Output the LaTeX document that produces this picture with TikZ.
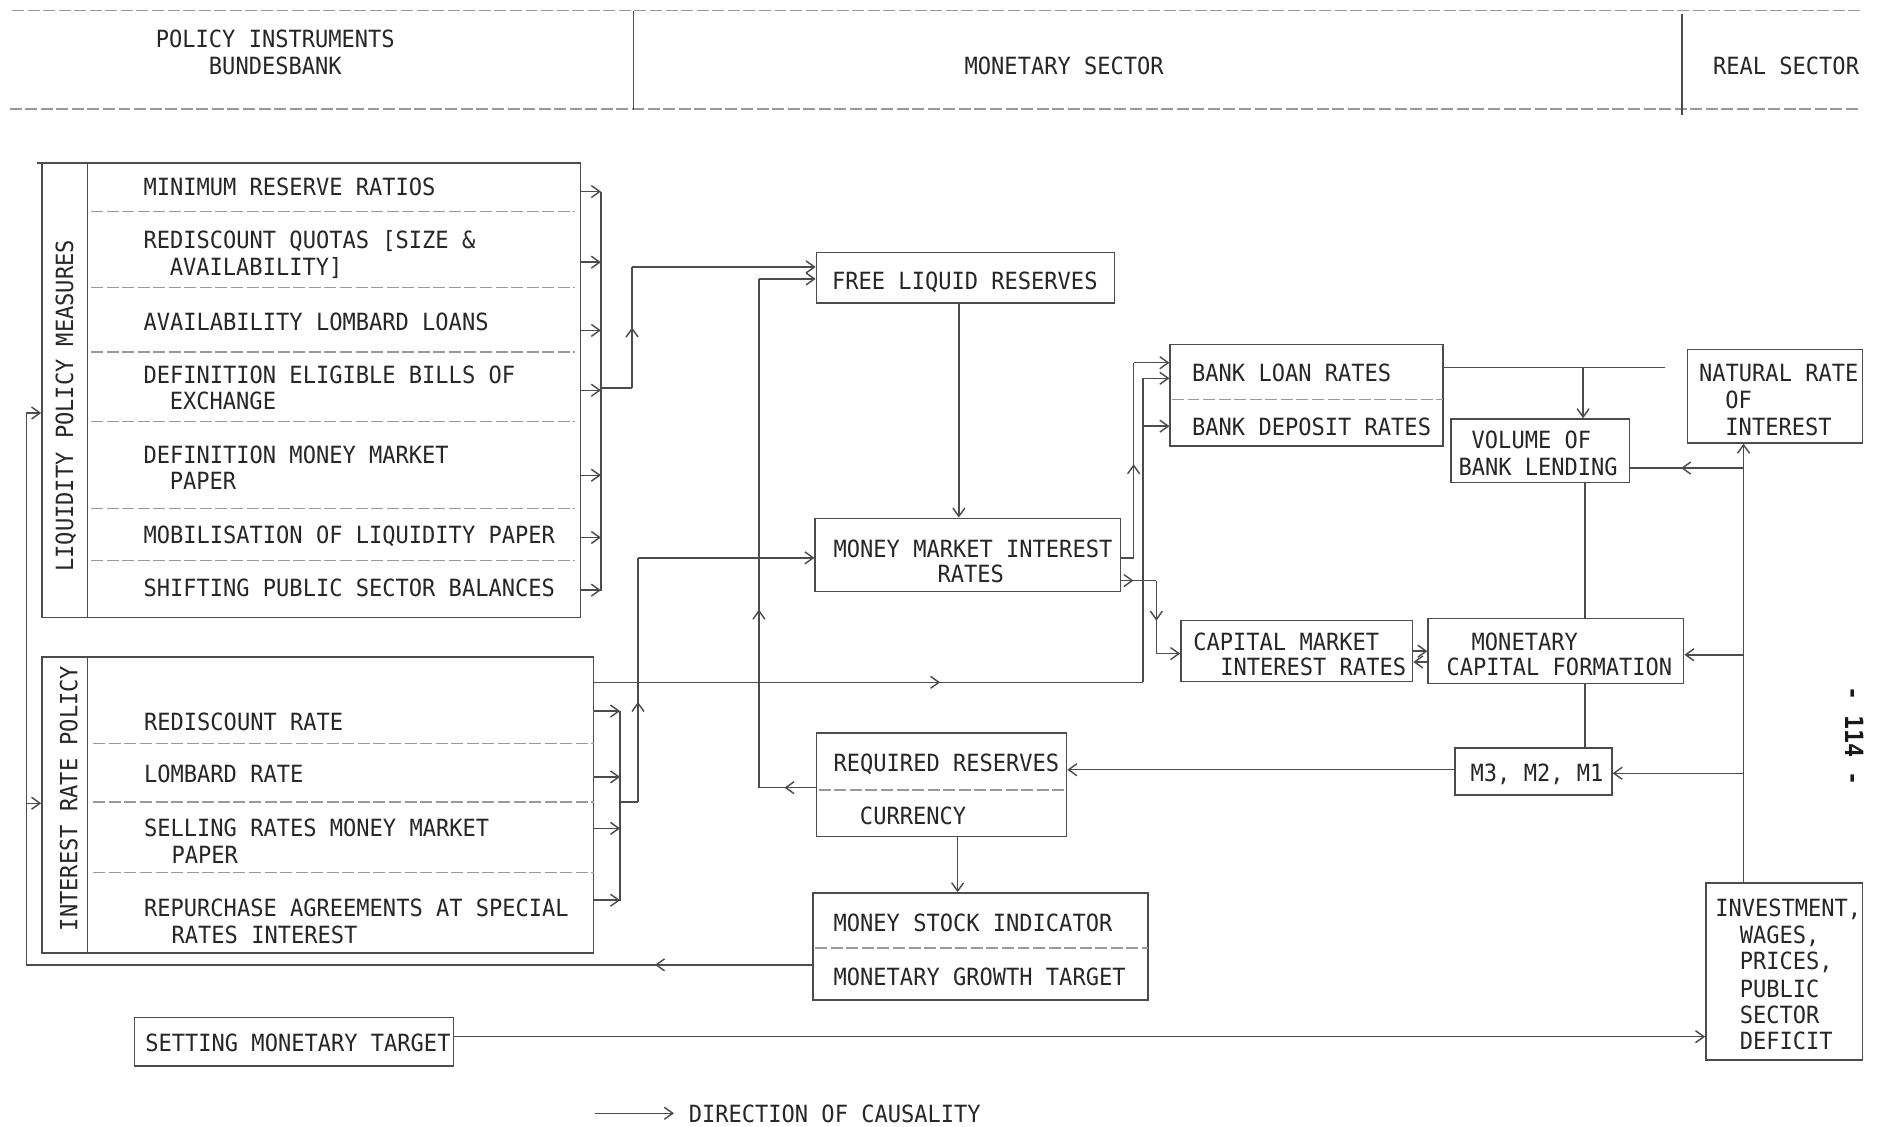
\documentclass[tikz,border=0pt]{standalone}
\usepackage{fontspec}
\newfontfamily\twfont[FakeStretch=0.93]{DejaVu Sans Mono}
\usetikzlibrary{arrows.meta,fit,decorations.markings}

\tikzset{
  ln/.style={draw=black!70, line width=0.6pt},
  faint/.style={draw=black!40, line width=0.5pt, dash pattern=on 5pt off 1.5pt},
  boxed/.style={draw=black!70, line width=0.6pt, inner sep=0pt},
  txt/.style={inner sep=0pt, anchor=base west, text=black!85},
  ctxt/.style={inner sep=0pt, anchor=base, text=black!85},
  tip/.style={-{Straight Barb[length=3.5pt,width=5pt]}},
  ma/.style={postaction={decorate}, decoration={markings, mark=at position #1 with {\arrow{Straight Barb[length=3.5pt,width=5pt]}}}},
}

\begin{document}
\begin{tikzpicture}[x=0.5pt, y=-0.5pt, font=\twfont\fontsize{9.9pt}{11.1pt}\selectfont]
\fill[white] (0,0) rectangle (1568,941);
\useasboundingbox (0,0) rectangle (1568,941);

% ---------------- header
\draw[faint] (10,9) -- (1555,9);
\draw[faint] (8,91) -- (1555,91);
\draw[ln] (529,9) -- (529,92);
\draw[ln] (1405,12) -- (1405,96);
\node[ctxt] (h1) at (230,40) {POLICY INSTRUMENTS};
\node[ctxt] (h2) at (230,62) {BUNDESBANK};
\node[ctxt] (h3) at (889,62) {MONETARY SECTOR};
\node[ctxt] (h4) at (1492,62) {REAL SECTOR};

% ---------------- liquidity policy measures
\node[boxed, fit={(35,136) (485,516)}] (liq) {};
\draw[ln] (31,136) -- (35,136);
\draw[ln] (73,136) -- (73,516);
\foreach \yy in {177,240,294,352,425,468} \draw[faint] (76,\yy) -- (480,\yy);
\node[rotate=90, inner sep=0pt, text=black!85] (liqlab) at (55,339) {LIQUIDITY POLICY MEASURES};
\node[txt] (l1) at (119.5,163) {MINIMUM RESERVE RATIOS};
\node[txt] (l2) at (119.5,208) {REDISCOUNT QUOTAS [SIZE \&};
\node[txt] (l2b) at (141.5,230) {AVAILABILITY]};
\node[txt] (l3) at (119.5,276) {AVAILABILITY LOMBARD LOANS};
\node[txt] (l4) at (119.5,320) {DEFINITION ELIGIBLE BILLS OF};
\node[txt] (l4b) at (141.5,342) {EXCHANGE};
\node[txt] (l5) at (119.5,387) {DEFINITION MONEY MARKET};
\node[txt] (l5b) at (141.5,409) {PAPER};
\node[txt] (l6) at (119.5,454) {MOBILISATION OF LIQUIDITY PAPER};
\node[txt] (l7) at (119.5,498) {SHIFTING PUBLIC SECTOR BALANCES};

\coordinate (lbt) at (502,160);
\coordinate (lbb) at (502,494);
\draw[ln] (lbt) -- (lbb);
\foreach \yy in {160,219,276,326,397,449,493} \draw[ln,tip] (liq.east |- 0,\yy) -- (502,\yy);

% ---------------- interest rate policy
\node[boxed, fit={(35,549) (496,796)}] (irp) {};
\draw[ln] (73,549) -- (73,796);
\foreach \yy in {621,670,729} \draw[faint] (78,\yy) -- (496,\yy);
\node[rotate=90, inner sep=0pt, text=black!85] (irplab) at (57.5,667) {INTEREST RATE POLICY};
\node[txt] (i1) at (120,610) {REDISCOUNT RATE};
\node[txt] (i2) at (120,654) {LOMBARD RATE};
\node[txt] (i3) at (120,699) {SELLING RATES MONEY MARKET};
\node[txt] (i3b) at (143,721) {PAPER};
\node[txt] (i4) at (120,766) {REPURCHASE AGREEMENTS AT SPECIAL};
\node[txt] (i4b) at (143,788) {RATES INTEREST};

\coordinate (ibt) at (518,594);
\coordinate (ibb) at (518,753);
\draw[ln] (ibt) -- (ibb);
\foreach \yy in {594,649,692,752} \draw[ln,tip] (irp.east |- 0,\yy) -- (518,\yy);

% ---------------- setting monetary target
\node[boxed, fit={(112.5,850) (379,890.5)}] (smt) {};
\node[txt] (smtt) at (121,878.5) {SETTING MONETARY TARGET};

% ---------------- monetary sector boxes
\node[boxed, fit={(682,211) (931,253)}] (flr) {};
\node[ctxt] (flrt) at (806,242) {FREE LIQUID RESERVES};

\node[boxed, fit={(681,433) (936,494)}] (mmir) {};
\node[txt] (mmirt) at (696,465.5) {MONEY MARKET INTEREST};
\node[ctxt] (mmirt2) at (811,487) {RATES};

\node[boxed, fit={(682,612.5) (891,699)}] (rr) {};
\draw[faint] (684,660) -- (891,660);
\node[txt] (rrt) at (696,644.5) {REQUIRED RESERVES};
\node[txt] (cur) at (718,689) {CURRENCY};

\node[boxed, fit={(679,746) (959,835.5)}] (msi) {};
\draw[faint] (681,792) -- (959,792);
\node[txt] (msit) at (696,778) {MONEY STOCK INDICATOR};
\node[txt] (mgt) at (696,823.5) {MONETARY GROWTH TARGET};

\node[boxed, fit={(977.5,288) (1205.5,372.5)}] (bank) {};
\draw[faint] (979,334) -- (1205.5,334);
\node[txt] (blr) at (995.5,319) {BANK LOAN RATES};
\node[txt] (bdr) at (995.5,363.5) {BANK DEPOSIT RATES};

\node[boxed, fit={(1212,350) (1361,403)}] (vol) {};
\node[txt] (volt) at (1229,374.5) {VOLUME OF};
\node[txt] (volt2) at (1218,397) {BANK LENDING};

\node[boxed, fit={(986.5,518.5) (1180,569.5)}] (cmir) {};
\node[txt] (cmirt) at (996.5,543) {CAPITAL MARKET};
\node[txt] (cmirt2) at (1019,564) {INTEREST RATES};

\node[boxed, fit={(1193,516.5) (1406.5,571)}] (mcf) {};
\node[txt] (mcft) at (1229,543) {MONETARY};
\node[txt] (mcft2) at (1208,564) {CAPITAL FORMATION};

\node[boxed, fit={(1215.5,625) (1346.5,664)}] (m3) {};
\node[ctxt] (m3t) at (1284,653) {M3, M2, M1};

% ---------------- real sector boxes
\node[boxed, fit={(1409.5,292) (1556,370)}] (nat) {};
\node[txt] (natt) at (1419,319) {NATURAL RATE};
\node[txt] (natt2) at (1441,341) {OF};
\node[txt] (natt3) at (1441,363.5) {INTEREST};

\node[boxed, fit={(1425,737.5) (1556,885.5)}] (inv) {};
\node[txt] (inv1) at (1432.5,766) {INVESTMENT,};
\node[txt] (inv2) at (1453,788) {WAGES,};
\node[txt] (inv3) at (1453,810) {PRICES,};
\node[txt] (inv4) at (1453,833) {PUBLIC};
\node[txt] (inv5) at (1453,855) {SECTOR};
\node[txt] (inv6) at (1453,877) {DEFICIT};

\node[rotate=-90, inner sep=0pt, text=black!90, font=\twfont\bfseries\fontsize{10.5pt}{12pt}\selectfont] (pg) at (1549,615) {- 114 -};

% ---------------- connectors
% liquidity bracket -> free liquid reserves
\coordinate (lq1) at (502,324);
\coordinate (lq2) at (528,324);
\coordinate (lq3) at (528,223);
\draw[ln] (lq1) -- (lq2);
\draw[ln, ma=0.5] (lq2) -- (lq3);
\draw[ln, tip] (lq3) -- (flr.west |- lq3);

% interest bracket -> money market interest rates
\coordinate (ir1) at (518,670);
\coordinate (ir2) at (533,670);
\coordinate (ir3) at (533,466);
\draw[ln] (ir1) -- (ir2);
\draw[ln, ma=0.41] (ir2) -- (ir3);
\draw[ln, tip] (ir3) -- (mmir.west |- ir3);

% interest rate policy -> bank rates
\coordinate (ir4) at (955,570);
\coordinate (ir5) at (955,316);
\coordinate (ir6) at (955,356);
\draw[ln, ma=0.63] (irp.east |- ir4) -- (ir4);
\draw[ln] (ir4) -- (ir5);
\draw[ln, tip] (ir5) -- (bank.west |- ir5);
\draw[ln, tip] (ir6) -- (bank.west |- ir6);

% free liquid reserves -> money market rates
\draw[ln, tip] (801,0 |- flr.south) -- (801,0 |- mmir.north);

% money market rates -> bank loan rates
\coordinate (mm1) at (947,466);
\coordinate (mm2) at (947,303);
\draw[ln] (mmir.east |- mm1) -- (mm1);
\draw[ln, ma=0.48] (mm1) -- (mm2);
\draw[ln, tip] (mm2) -- (bank.west |- mm2);

% money market rates -> capital market rates
\coordinate (mm3) at (966,485);
\coordinate (mm4) at (966,546);
\draw[ln, ma=0.35] (mmir.east |- mm3) -- (mm3);
\draw[ln, ma=0.55] (mm3) -- (mm4);
\draw[ln, tip] (mm4) -- (cmir.west |- mm4);

% required reserves -> free liquid reserves
\coordinate (rr1) at (634,658);
\coordinate (rr2) at (634,233);
\draw[ln, ma=0.55] (rr.west |- rr1) -- (rr1);
\draw[ln, ma=0.35] (rr1) -- (rr2);
\draw[ln, tip] (rr2) -- (flr.west |- rr2);

% required reserves -> money stock indicator
\draw[ln, tip] (800,0 |- rr.south) -- (800,0 |- msi.north);

% M3 -> required reserves
\draw[ln, tip] (m3.west |- 0,643) -- (rr.east |- 0,643);

% monetary growth target -> policy instruments
\coordinate (fb1) at (22,806);
\coordinate (fb2) at (22,345);
\coordinate (fb3) at (22,671);
\draw[ln, ma=0.2] (msi.west |- fb1) -- (fb1);
\draw[ln] (fb1) -- (fb2);
\draw[ln, tip] (fb2) -- (liq.west |- fb2);
\draw[ln, tip] (fb3) -- (irp.west |- fb3);

% bank loan rates -> volume of bank lending
\coordinate (bl1) at (1391,307);
\coordinate (bl2) at (1322.5,307);
\draw[ln] (bank.east |- bl1) -- (bl1);
\draw[ln, tip] (bl2) -- (bl2 |- vol.north);

% investment ... -> natural rate and others
\coordinate (rv1) at (1456.5,391);
\coordinate (rv2) at (1456.5,547);
\coordinate (rv3) at (1456.5,646);
\draw[ln, tip] (1456.5,0 |- inv.north) -- (1456.5,0 |- nat.south);
\draw[ln, ma=0.55] (rv1) -- (vol.east |- rv1);
\draw[ln, tip] (rv2) -- (mcf.east |- rv2);
\draw[ln, tip] (rv3) -- (m3.east |- rv3);

% vertical links
\draw[ln] (1324,0 |- vol.south) -- (1324,0 |- mcf.north);
\draw[ln] (1324,0 |- mcf.south) -- (1324,0 |- m3.north);

% capital market <-> monetary capital formation
\draw[ln, tip] (cmir.east |- 0,544) -- (mcf.west |- 0,544);
\draw[ln, tip] (mcf.west |- 0,553) -- (cmir.east |- 0,553);

% setting monetary target -> investment
\draw[ln, tip] (smt.east |- 0,866) -- (inv.west |- 0,866);

% legend
\node[txt] (lgt) at (575,938) {DIRECTION OF CAUSALITY};
\coordinate (lg1) at (497,930);
\draw[ln, tip] (lg1) -- (563,930);
\end{tikzpicture}
\end{document}
